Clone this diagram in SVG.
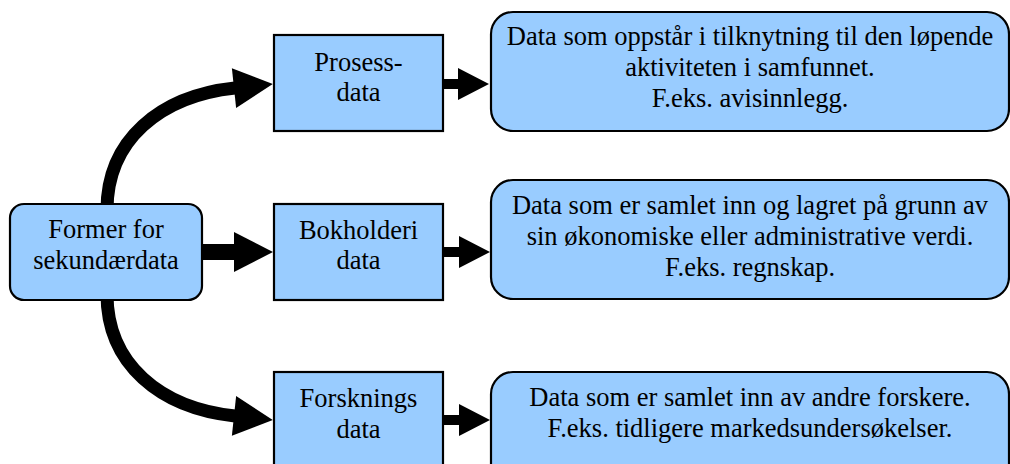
<svg xmlns="http://www.w3.org/2000/svg" width="1010" height="464" viewBox="0 0 1010 464">
  <style>
    .box { fill: #99ccff; stroke: #000; stroke-width: 2.2; }
    .lbl { font-family: 'Liberation Serif', Tinos, 'Nimbus Roman', 'Times New Roman', 'DejaVu Serif', serif; font-size: 26.5px; fill: #000; text-anchor: middle; }
    .thick { fill: none; stroke: #000; stroke-width: 13; }
    .shaft { fill: none; stroke: #000; stroke-width: 16; }
    .thin { fill: none; stroke: #000; stroke-width: 10; }
  </style>
  <defs>
    <marker id="bigHead" markerUnits="userSpaceOnUse" markerWidth="40" markerHeight="40" viewBox="0 0 39 40" refX="1" refY="20" orient="auto">
      <path d="M0,0 L39,20 L0,40 Z" fill="#000"/>
    </marker>
    <marker id="smallHead" markerUnits="userSpaceOnUse" markerWidth="31" markerHeight="32" viewBox="0 0 31 32" refX="1" refY="16" orient="auto">
      <path d="M0,0 L31,16 L0,32 Z" fill="#000"/>
    </marker>
  </defs>

  <!-- connectors -->
  <g id="connectors">
    <path class="thick" d="M107,210 C107,140 160,96 235,88" marker-end="url(#bigHead)"/>
    <path class="shaft" d="M200,252 L235,252" marker-end="url(#bigHead)"/>
    <path class="thick" d="M107,294 C107,364 160,408 235,416" marker-end="url(#bigHead)"/>
    <path class="thin" d="M442,84 L459,84" marker-end="url(#smallHead)"/>
    <path class="thin" d="M442,252 L460,252" marker-end="url(#smallHead)"/>
    <path class="thin" d="M442,420 L460,420" marker-end="url(#smallHead)"/>
  </g>

  <!-- root node -->
  <g id="former">
    <rect class="box" x="10" y="204" width="192" height="96" rx="14"/>
    <text class="lbl" x="106" y="238">Former for</text>
    <text class="lbl" x="106" y="269">sekundærdata</text>
  </g>

  <!-- category nodes -->
  <g id="prosess">
    <rect class="box" x="274" y="35" width="169" height="96"/>
    <text class="lbl" x="358.5" y="71">Prosess-</text>
    <text class="lbl" x="358.5" y="101">data</text>
  </g>
  <g id="bokholderi">
    <rect class="box" x="274" y="204" width="169" height="96"/>
    <text class="lbl" x="358.5" y="239">Bokholderi</text>
    <text class="lbl" x="358.5" y="269">data</text>
  </g>
  <g id="forsknings">
    <rect class="box" x="274" y="372" width="169" height="96"/>
    <text class="lbl" x="358.5" y="407">Forsknings</text>
    <text class="lbl" x="358.5" y="438">data</text>
  </g>

  <!-- description nodes -->
  <g id="prosess-desc">
    <rect class="box" x="491" y="12" width="518" height="119" rx="22"/>
    <text class="lbl" x="750" y="45">Data som oppstår i tilknytning til den løpende</text>
    <text class="lbl" x="750" y="76">aktiviteten i samfunnet.</text>
    <text class="lbl" x="750" y="107">F.eks. avisinnlegg.</text>
  </g>
  <g id="bokholderi-desc">
    <rect class="box" x="491" y="180" width="518" height="119" rx="22"/>
    <text class="lbl" x="750" y="214">Data som er samlet inn og lagret på grunn av</text>
    <text class="lbl" x="750" y="245">sin økonomiske eller administrative verdi.</text>
    <text class="lbl" x="750" y="276">F.eks. regnskap.</text>
  </g>
  <g id="forsknings-desc">
    <rect class="box" x="491" y="372" width="518" height="119" rx="22"/>
    <text class="lbl" x="750" y="406">Data som er samlet inn av andre forskere.</text>
    <text class="lbl" x="750" y="437">F.eks. tidligere markedsundersøkelser.</text>
  </g>
</svg>
